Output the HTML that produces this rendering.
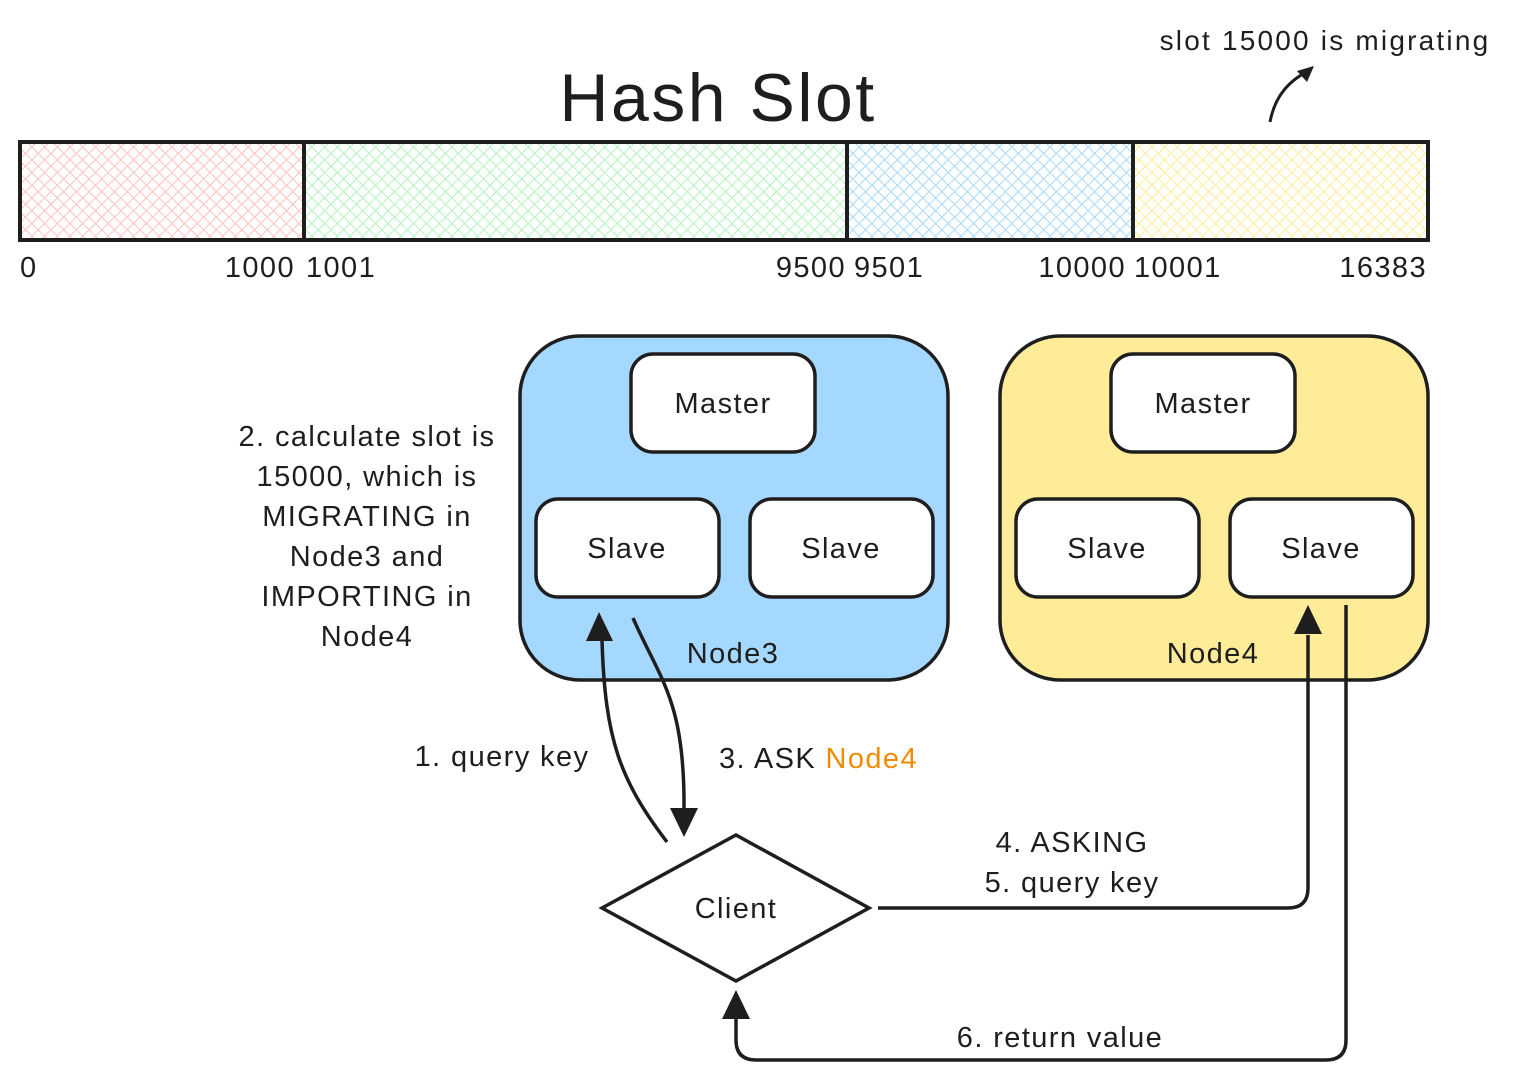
<!DOCTYPE html>
<html><head><meta charset="utf-8"><style>
body{margin:0;background:#fff;}
svg text{font-family:"Liberation Sans",sans-serif;fill:#1e1e1e;letter-spacing:1.4px;}
</style></head><body>
<svg width="1515" height="1081" viewBox="0 0 1515 1081" xmlns="http://www.w3.org/2000/svg">
<defs>
<pattern id="pr" width="9" height="9" patternUnits="userSpaceOnUse" patternTransform="rotate(45)"><path d="M0 0H9M0 0V9" stroke="#ffc0c0" stroke-width="2"/></pattern>
<pattern id="pg" width="9" height="9" patternUnits="userSpaceOnUse" patternTransform="rotate(45)"><path d="M0 0H9M0 0V9" stroke="#b2f2bb" stroke-width="2"/></pattern>
<pattern id="pb" width="9" height="9" patternUnits="userSpaceOnUse" patternTransform="rotate(45)"><path d="M0 0H9M0 0V9" stroke="#a5d8ff" stroke-width="2"/></pattern>
<pattern id="py" width="9" height="9" patternUnits="userSpaceOnUse" patternTransform="rotate(45)"><path d="M0 0H9M0 0V9" stroke="#ffec99" stroke-width="2"/></pattern>
</defs>
<text x="718" y="121" font-size="68" text-anchor="middle" style="letter-spacing:2.5px">Hash Slot</text>
<text x="1325" y="50" font-size="28" text-anchor="middle" style="letter-spacing:2.2px">slot 15000 is migrating</text>
<path d="M1270 122 C1275 95 1290 80 1310 70" fill="none" stroke="#1e1e1e" stroke-width="3"/>
<path d="M1314 66 L1297 71 L1307 82 Z" fill="#1e1e1e"/>
<g stroke="#1e1e1e" stroke-width="4">
<rect x="20" y="142" width="284" height="98" fill="url(#pr)"/>
<rect x="304" y="142" width="543" height="98" fill="url(#pg)"/>
<rect x="847" y="142" width="286" height="98" fill="url(#pb)"/>
<rect x="1133" y="142" width="295" height="98" fill="url(#py)"/>
</g>
<g font-size="29">
<text x="20" y="277">0</text>
<text x="295" y="277" text-anchor="end">1000</text>
<text x="306" y="277">1001</text>
<text x="846" y="277" text-anchor="end">9500</text>
<text x="854" y="277">9501</text>
<text x="1126" y="277" text-anchor="end">10000</text>
<text x="1134" y="277">10001</text>
<text x="1427" y="277" text-anchor="end">16383</text>
</g>
<g stroke="#1e1e1e" stroke-width="3.5">
<rect x="520" y="336" width="428" height="344" rx="60" fill="#a5d8ff"/>
<rect x="1000" y="336" width="428" height="344" rx="60" fill="#ffec99"/>
<rect x="631" y="354" width="184" height="98" rx="22" fill="#fff"/>
<rect x="536" y="499" width="183" height="98" rx="22" fill="#fff"/>
<rect x="750" y="499" width="183" height="98" rx="22" fill="#fff"/>
<rect x="1111" y="354" width="184" height="98" rx="22" fill="#fff"/>
<rect x="1016" y="499" width="183" height="98" rx="22" fill="#fff"/>
<rect x="1230" y="499" width="183" height="98" rx="22" fill="#fff"/>
<path d="M602 908 L736 835 L869 908 L736 981 Z" fill="#fff"/>
</g>
<g font-size="29" text-anchor="middle">
<text x="723" y="413">Master</text>
<text x="627" y="558">Slave</text>
<text x="841" y="558">Slave</text>
<text x="1203" y="413">Master</text>
<text x="1107" y="558">Slave</text>
<text x="1321" y="558">Slave</text>
<text x="733" y="663">Node3</text>
<text x="1213" y="663">Node4</text>
<text x="736" y="918">Client</text>
<text x="367" y="446">2. calculate slot is</text>
<text x="367" y="486">15000, which is</text>
<text x="367" y="526">MIGRATING in</text>
<text x="367" y="566">Node3 and</text>
<text x="367" y="606">IMPORTING in</text>
<text x="367" y="646">Node4</text>
<text x="502" y="766">1. query key</text>
<text x="1072" y="852">4. ASKING</text>
<text x="1072" y="892">5. query key</text>
<text x="1060" y="1047">6. return value</text>
</g>
<text x="719" y="768" font-size="29">3. ASK <tspan style="fill:#f08c00">Node4</tspan></text>
<g fill="none" stroke="#1e1e1e" stroke-width="3.5">
<path d="M667 842 C620 780 605 740 602 640"/>
<path d="M633 618 C660 680 685 700 684 810"/>
<path d="M878 908 H1288 Q1308 908 1308 888 V635"/>
<path d="M1346 605 V1040 Q1346 1060 1326 1060 H756 Q736 1060 736 1040 V1018"/>
</g>
<g fill="#1e1e1e">
<path d="M599 612 L586 641 L613 641 Z"/>
<path d="M684 837 L670 808 L698 808 Z"/>
<path d="M1308 605 L1294 634 L1322 634 Z"/>
<path d="M736 990 L722 1019 L750 1019 Z"/>
</g>
</svg>
</body></html>
